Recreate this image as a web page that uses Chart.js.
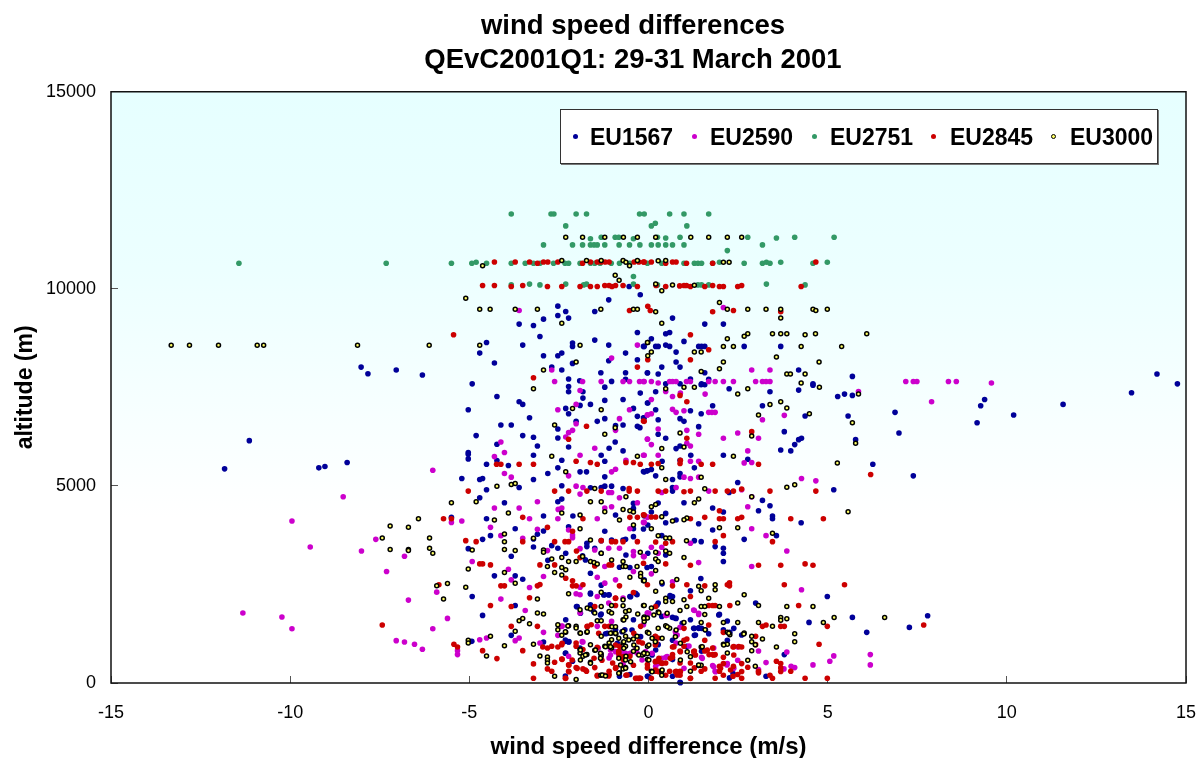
<!DOCTYPE html>
<html>
<head>
<meta charset="utf-8">
<title>wind speed differences</title>
<script src="https://cdn.jsdelivr.net/npm/chart.js@4"></script>
<style>
    html, body { margin: 0; padding: 0; background: #fff; }
    #wrap { position: relative; width: 1199px; height: 758px; }
    #legend {
        position: absolute; left: 560px; top: 109px; width: 596px; height: 53px;
        border: 1px solid #333; background: #fff; box-shadow: 1px 1px 0 #777;
        font: bold 23px "Liberation Sans", Arial, sans-serif; color: #000;
    }
    #legend span { position: absolute; top: 14px; line-height: 26px; }
    #legend i { position: absolute; top: 24px; width: 5px; height: 5px; border-radius: 50%; box-sizing: border-box; }
</style>
</head>
<body>
<div id="wrap">
    <canvas id="chart" width="1199" height="758"></canvas>
    <div id="legend"></div>
</div>
<script>
const titleLines = ['wind speed differences', 'QEvC2001Q1: 29-31 March 2001'];
const xTitle = 'wind speed difference (m/s)';
const yTitle = 'altitude (m)';
const seriesNames = ['EU1567', 'EU2590', 'EU2751', 'EU2845', 'EU3000'];

// [wind speed difference m/s, altitude m]
const eu1567 = [[-11.14,6149],[-11.83,5433],[-9.2,5458],[-9.03,5492],[-8.41,5593],[-4.92,7590],[-4.23,7270],[-3.61,7135],[-3.51,7068],[-5.03,6933],[-3.32,6731],[-4.12,6545],[-3.83,6545],[-4.81,6276],[-3.51,6276],[-3.21,6233],[-4.23,6056],[-3.1,6014],[-5.03,5846],[-5.03,5803],[-5.03,5686],[-3.21,5778],[-4.23,5643],[-4.52,5551],[-3.91,5517],[-2.42,5652],[-2.53,5458],[-2.81,5315],[-5.21,5188],[-4.71,5163],[-4.63,5188],[-3.21,5163],[-4.52,4902],[-3.61,4961],[-4.71,4699],[-4.02,4573],[-2.53,4598],[-2.42,4665],[-2.93,4235],[-2.11,4235],[-4.52,4168],[-5.5,4202],[-3.72,3915],[-4.41,3738],[-4.63,3645],[-5.03,3409],[-3.83,3215],[-4.3,2718],[-3.72,2718],[-3.51,2634],[-4.92,2195],[-3.72,1968],[-4.63,1715],[-3.83,1209],[-4.93,1057],[-3.21,3654],[-3.1,3772],[-2.93,3856],[-3.21,3452],[-2.53,3418],[-2.7,3485],[-2.31,3291],[-2.81,3114],[-2.23,7523],[-2.23,7388],[-1.83,7388],[-1.83,7228],[-1.62,7068],[-1.91,7043],[-2.31,6967],[-2.23,6832],[-1.22,7506],[-1.22,7169],[-1.22,6706],[-1.43,6638],[-0.71,7194],[-0.42,6967],[-0.93,6115],[-1.1,5955],[-0.71,5888],[-0.31,6765],[-0.12,6731],[-0.92,6530],[-0.71,6545],[-0.31,6512],[-0.24,6478],[-0.23,7355],[-0.03,7102],[-2.02,6638],[-2.53,6444],[-2.53,6217],[-2.23,5989],[-1.32,5778],[-1.22,5626],[-1.91,5357],[-1.73,5357],[-1.22,5230],[-2.42,5003],[-1.62,4952],[-1.32,4961],[-1.22,4994],[-1.03,4994],[-0.71,4935],[-0.12,5357],[-0.03,5382],[-0.42,4556],[-0.42,4430],[-0.12,4235],[-0.92,4261],[-0.42,3915],[-1.22,3848],[-2.23,3965],[-1.32,3612],[-1.03,3629],[-0.71,3629],[-0.64,3645],[-1.72,3544],[-1.72,3460],[-1.5,3418],[-1.32,3291],[-0.63,3249],[-0.42,3713],[-1.84,3224],[-1.76,3123],[-0.81,2937],[-0.52,2929],[-0.12,2617],[-1.62,2786],[-1.62,2280],[-1.32,2482],[-1.22,2238],[-1.1,2238],[-0.52,2195],[-0.32,2238],[-2.01,1942],[-1.62,1985],[-1.32,1749],[-0.42,1605],[-2.31,1605],[-1.2,1251],[-0.66,1352],[-0.92,1352],[-2.93,1041],[-2.31,1057],[-2.23,1041],[-2.31,762],[-2.12,552],[-1.91,889],[-0.52,214],[-0.81,172],[-0.03,172],[14.76,7590],[13.48,7363],[11.57,7068],[10.19,6798],[9.38,7194],[9.27,7034],[9.17,6604],[6.99,6343],[6.88,6866],[7.39,5256],[6.26,5551],[5.78,6174],[5.57,6773],[5.69,7296],[5.47,7329],[5.28,7270],[4.59,7557],[4.19,7431],[3.39,7388],[3.18,7034],[4.37,6773],[3.79,6377],[4.27,6208],[4.19,6174],[4.08,6048],[3.69,5913],[3.97,5888],[5.17,4902],[2.49,5087],[2.77,5677],[2.09,5778],[1.28,5458],[1.18,5778],[0.88,5652],[0.38,5626],[0.08,5416],[-0.04,5382],[-0.14,5365],[0.2,5256],[0.67,5163],[0.88,5315],[0.88,5230],[0.67,4961],[0.67,4868],[2.25,4834],[0.99,4573],[1.79,4438],[2.09,4337],[3.18,4632],[3.39,4497],[3.07,4370],[3.46,4235],[3.46,4168],[4.26,4067],[3.57,3738],[2.67,3645],[2.09,3418],[2.09,3291],[2.09,3081],[1.86,3460],[1.47,3586],[1.28,3612],[1.79,3881],[1.4,4042],[0.77,4135],[0.48,4303],[0.48,4067],[0.27,4564],[0.08,4337],[-0.02,4008],[-0.14,3907],[0.37,3738],[-0.04,2929],[0.08,2954],[0.48,3249],[-0.02,3291],[1.46,2651],[1.17,2339],[0.38,2516],[4.99,2195],[2.99,2027],[0.27,2027],[0.6,2221],[0.67,2195],[0.67,1664],[0.77,1639],[1.17,1605],[1.98,1740],[2.2,1572],[5.69,1664],[7.79,1707],[7.28,1411],[6.09,1285],[4.48,1538],[1.28,1386],[1.4,1403],[1.48,1386],[2.09,1352],[2.27,1285],[2.6,1218],[1.68,1251],[1.28,1209],[0.67,1083],[2.2,1083],[0.27,973],[1.07,931],[3.79,720],[1.48,804],[0.67,594],[2.36,240],[2.26,130],[3.28,172],[0.88,20],[0.67,172],[-0.02,172],[0.37,1690],[-8.02,8015],[-7.83,7846],[-7.04,7939],[-6.31,7813],[-4.52,8640],[-4.71,8370],[-4.3,8117],[-3.51,8573],[-2.93,8302],[-2.53,8302],[-2.42,8370],[-2.7,8015],[-2.42,7939],[-2.12,8623],[-2.12,8539],[-2.12,8108],[-1.5,8699],[-1.11,8573],[-1.11,8176],[-0.64,8370],[-0.31,8201],[-1.33,7872],[-0.64,7872],[-2.23,7711],[-1.92,7669],[-1.03,7652],[-0.64,7703],[-2.53,9561],[-2.31,9426],[-2.53,9324],[-2.23,9257],[-2.93,9231],[-3.61,9105],[-3.21,9071],[-3.03,8792],[-1.11,9721],[-1.5,9426],[-0.54,10059],[-0.23,9848],[-0.31,8894],[-0.03,7863],[-0.12,8539],[0.67,9257],[1.57,9105],[2.09,9105],[0.59,8894],[0.48,8860],[0.08,8733],[-0.14,8539],[0.2,8539],[0.27,8539],[0.48,8573],[0.59,8539],[0.99,8666],[0.77,8395],[1.4,8539],[1.48,8539],[1.57,8539],[2.67,8539],[3.69,8539],[0.77,8142],[0.37,8015],[0.88,8015],[-0.03,7872],[0.27,7838],[1.17,7711],[1.57,7872],[1.68,7703],[4.19,7939],[5.69,7779],[4.59,7593],[14.19,7838],[1.48,7593],[0.48,7593],[0.88,7593],[0.2,7388],[-0.02,7102],[1.47,7566],[1.57,7566],[2.25,7464],[1.79,7034],[1.17,6908],[1.47,6832],[0.2,6933],[0.27,6680],[0.88,6706],[0.99,6638],[1.4,6503],[0.27,6309],[0.48,6208],[0.77,5947],[0.88,6014],[-0.14,6731],[-0.74,1302],[-1.15,1260],[-0.46,1345],[-0.22,1176],[0.2,837],[0.1,710],[-2.32,1091],[-2.22,1049],[-2.32,753],[-1.34,1726],[-1.53,1810],[-1.99,1937],[-1.9,1768],[-1.62,2258],[-1.25,2233],[-1.11,2233],[-0.5,2191],[-0.36,2275],[0.24,1979],[0.61,2191],[0.75,1641],[0.94,1514],[1.26,1387],[1.4,1387],[1.59,1345],[1.96,1726],[2.38,1387],[0.01,160],[0.89,8],[-2.32,177],[-0.87,1006],[1.31,1218]];

const eu2590 = [[-0.14,7650],[0.08,7650],[0.27,7610],[0.59,7650],[0.67,7650],[0.77,7650],[1.06,7650],[1.17,7650],[1.68,7650],[1.86,7650],[2.09,7650],[2.37,7650],[2.99,7650],[3.18,7650],[3.28,7650],[3.39,7650],[7.18,7650],[7.39,7650],[7.49,7650],[8.37,7650],[8.59,7650],[9.57,7610],[-2.62,7650],[-1.84,7650],[-1.32,7650],[-0.71,7650],[-0.53,7650],[-0.25,7650],[-0.12,7650],[-3.61,9451],[-1.03,8243],[-2.7,7939],[-0.31,8573],[2.09,9527],[2.88,7939],[3.39,7939],[5.86,7397],[7.9,7135],[0.48,7397],[0.89,7355],[0.67,7270],[0.08,7194],[1.58,7329],[0.67,6942],[0.77,6866],[0.99,6908],[1.68,6866],[1.77,6866],[1.86,6866],[0.08,6832],[-0.03,6798],[3.18,6680],[3.79,6790],[0.27,6444],[-0.03,6183],[0.08,6048],[1.07,6410],[1.4,6309],[2.49,6343],[2.09,6208],[3.07,6208],[1.07,6082],[1.17,6014],[-0.14,5778],[0.27,5778],[2.77,5888],[1.17,5626],[1.4,5626],[2.67,5584],[2.88,5593],[0.99,5222],[1.17,5188],[1.4,5222],[4.27,5188],[4.67,5129],[0.77,4961],[0.37,4834],[1.68,4868],[2.6,4902],[2.88,4725],[2.77,4472],[-0.03,4210],[2.88,3915],[3.28,3738],[1.17,3544],[-0.14,4075],[3.86,3350],[0.08,3443],[0.37,3443],[-0.14,3207],[0.27,3291],[1.4,3055],[2.88,2954],[0.08,2769],[0.67,2567],[4.27,2364],[1.28,1841],[1.4,1740],[0.48,1715],[-0.03,1774],[-0.14,1479],[0.88,1411],[0.77,1226],[3.07,813],[3.86,788],[5.17,687],[6.19,720],[6.19,459],[5.06,552],[4.59,459],[3.28,518],[2.49,577],[1.48,653],[0.48,653],[0.37,628],[3.07,341],[3.98,425],[4.08,391],[3.78,358],[1.79,442],[2.2,492],[1.86,299],[1.82,889],[2.49,914],[0.2,425],[0.77,1015],[-6.02,5399],[-8.52,4725],[-9.95,4109],[-9.44,3452],[-7.61,3645],[-8.01,3350],[-6.81,3215],[-7.31,2828],[-6.7,2103],[-5.91,2305],[-5.61,1639],[-11.32,1774],[-10.23,1673],[-9.95,1378],[-6.02,1378],[-7.04,1074],[-6.81,1041],[-6.53,982],[-6.31,855],[-5.33,821],[-5.33,720],[-4.71,1099],[-4.52,1142],[-5.5,4075],[-5.21,4109],[-4.92,3081],[-4.3,5744],[-4.12,6115],[-4.02,5846],[-4.02,5315],[-3.83,5222],[-4.3,4438],[-3.61,4438],[-3.1,4598],[-4.41,3949],[-4.12,3738],[-3.51,3671],[-3.32,4168],[-3.91,2887],[-3.83,2617],[-3.32,2423],[-4.12,2128],[-3.44,1841],[-3.72,1074],[-3.61,1142],[-2.93,1285],[-3.03,1015],[-3.1,3898],[-2.93,2701],[-2.53,6933],[-2.02,7068],[-1.91,7422],[-2.02,6579],[-2.23,6351],[-2.12,6410],[-2.31,6242],[-2.23,5256],[-1.91,5778],[-1.5,5955],[-0.81,6706],[-0.53,6933],[-0.92,6410],[-0.03,6807],[-0.03,6191],[-0.12,5778],[-0.63,5652],[-1.03,5357],[-0.92,5424],[-2.02,4994],[-1.83,4961],[-1.91,4792],[-1.11,4834],[-1.03,4834],[-0.81,4699],[-0.31,4573],[-2.52,4404],[-2.42,4438],[-2.53,4168],[-1.22,4438],[-1.03,4472],[-1.43,4168],[-0.52,3915],[-0.12,4075],[-0.03,4202],[-2.23,3881],[-2.12,3755],[-2.12,3688],[-2.82,3359],[-1.91,3409],[-1.5,3376],[-1.11,3418],[-0.81,3418],[-0.42,3334],[-0.42,3232],[-1.22,2954],[-0.12,3207],[-0.42,2828],[-1.43,2684],[-1.22,2533],[-0.92,2617],[-1.91,2431],[-2.02,2263],[-1.91,2238],[-1.43,2195],[-1.11,2027],[-0.71,2153],[-1.91,1774],[-0.03,1774],[-2.42,1437],[-2.53,1209],[-1.83,1041],[-1.43,1437],[-1.03,1563],[-0.32,762],[-0.81,804],[-0.71,762],[-1.1,636],[-2.23,678],[-0.71,467],[-0.52,744],[-1.4,889],[-1.06,837],[-0.92,795],[-0.83,710],[-0.64,753],[-0.5,753],[-0.36,837],[-0.08,795],[-0.18,583],[-1.06,710],[0.1,753],[0.52,668],[0.75,1302],[0.8,1218],[0.29,499],[0.99,372],[2.19,456],[2.38,372],[1.82,414],[1.87,287],[1.5,626],[1.13,939],[1.26,1852],[1.4,1768],[0.01,1768],[0.52,1726],[-2.41,1446],[-1.85,1049]];

const eu2751 = [[-3.83,11900],[-2.72,11900],[-2.64,11900],[-2.02,11900],[-1.73,11900],[-0.25,11900],[-0.12,11900],[0.59,11900],[0.99,11900],[1.68,11900],[0.19,11665],[0.08,11596],[1.07,11596],[-2.31,11596],[-1.62,11270],[-1.32,11310],[-0.93,11310],[-0.83,11310],[-0.42,11270],[0.25,11310],[0.48,11290],[0.88,11310],[2.77,11310],[3.57,11290],[4.08,11310],[5.18,11310],[-2.93,11115],[-2.12,11115],[-1.84,11115],[-1.62,11115],[-1.52,11115],[-1.43,11115],[-1.22,11115],[-0.82,11115],[-0.53,11115],[-0.24,11115],[0.08,11115],[0.27,11115],[0.48,11115],[0.67,11115],[0.99,11115],[3.18,11115],[2.2,10970],[-11.43,10650],[-7.32,10650],[-5.5,10650],[-4.93,10650],[-4.81,10675],[-4.52,10650],[-3.83,10650],[-3.44,10650],[-3.21,10650],[-3.03,10650],[-2.65,10650],[-2.33,10650],[-2.23,10650],[-1.91,10650],[-1.62,10650],[-1.5,10650],[-1.35,10650],[-1.04,10650],[-0.81,10650],[-0.52,10650],[-0.03,10650],[0.37,10650],[0.99,10650],[1.28,10650],[1.38,10650],[1.48,10650],[1.79,10650],[1.98,10675],[2.67,10650],[3.18,10650],[3.29,10675],[3.39,10650],[3.69,10675],[4.59,10650],[4.99,10675],[-3.83,10100],[-3.32,10120],[-3.03,10100],[-2.31,10120],[-1.81,10100],[-1.73,10120],[-0.42,10312],[-0.42,10120],[0.25,10100],[1.38,10100],[1.48,10100],[1.68,10100],[3.29,10120],[4.37,10100]];

const eu2845 = [[-4.3,10680],[-3.72,10680],[-3.32,10680],[-3.1,10650],[-2.93,10680],[-2.81,10680],[-2.53,10680],[-1.84,10650],[-1.62,10680],[-1.43,10680],[-1.32,10680],[-1.21,10680],[-1.1,10680],[-0.4,10680],[-0.27,10680],[-0.12,10680],[-0.14,10680],[0.08,10680],[0.48,10650],[0.67,10680],[0.77,10680],[1.06,10650],[1.79,10650],[4.67,10680],[-4.63,10085],[-4.3,10085],[-3.83,10060],[-3.51,10085],[-2.82,10060],[-2.42,10060],[-1.91,10060],[-1.62,10060],[-1.43,10060],[-1.22,10085],[-1.1,10085],[-1.02,10060],[-0.92,10085],[-0.71,10085],[-0.31,10060],[0.21,10085],[0.48,10060],[0.87,10075],[0.99,10085],[1.06,10085],[1.17,10060],[1.57,10060],[1.79,10085],[1.98,10060],[2.09,10060],[2.49,10060],[2.6,10085],[4.26,10060],[-0.02,9560],[-0.53,9450],[0.05,9450],[-5.44,8835],[-0.02,8200],[-0.31,8015],[-3.21,7745],[1.79,9418],[2.37,9450],[3.69,9418],[1.17,8835],[1.68,8455],[1.17,8200],[-7.43,1470],[-5.85,2491],[-5.72,4168],[-5.5,4168],[-5.03,4868],[-5.1,3612],[-4.81,3586],[-4.71,3022],[-4.63,3022],[-4.41,2996],[-4.12,2465],[-4.02,2465],[-4.41,1968],[-3.83,1942],[-3.32,2162],[-4.24,5551],[-4.12,5551],[-3.61,5551],[-3.21,5551],[-3.83,1437],[-3.1,1437],[-5.43,982],[-5.33,914],[-4.63,821],[-4.23,619],[-3.51,821],[-3.21,484],[-3.21,122],[-3.51,4202],[-2.82,3949],[-3.51,3586],[-2.62,3586],[-2.33,3586],[-2.23,3586],[-2.12,3848],[-2.62,4868],[-2.23,4868],[-1.72,4868],[-1.32,4868],[-0.54,4935],[-0.54,4868],[-0.31,4868],[-2.02,5626],[-1.62,5593],[-1.43,5551],[-0.63,5593],[-0.42,5593],[-0.23,5551],[-2.23,6183],[-1.73,6512],[-0.12,6638],[-1.83,4168],[-0.52,4202],[-0.12,4261],[-0.31,4202],[-1.03,3586],[-0.92,3586],[-0.71,3586],[-0.31,3586],[-1.32,3612],[-2.01,3350],[-1.91,3182],[-3.03,2996],[-2.62,2996],[-1.5,2971],[-1.1,2996],[-1.03,2996],[-2.31,2659],[-2.12,2592],[-2.12,2465],[-2.02,2465],[-1.83,2491],[-0.81,2465],[-3.1,2465],[-3.03,2499],[-0.42,2297],[-0.92,2153],[-0.92,1968],[-1.5,1942],[-1.71,1437],[-1.6,1478],[-1.22,1437],[-1.1,1437],[-0.22,1437],[-2.95,914],[-2.82,889],[-2.7,931],[-2.53,914],[-2.42,973],[-2.02,931],[-2.02,1015],[-1.83,847],[-1.43,906],[-0.81,931],[-0.83,804],[-0.81,678],[-0.52,678],[-0.17,1015],[-2.62,526],[-2.42,610],[-2.23,459],[-2.02,391],[-1.83,358],[-1.73,299],[-2.23,299],[-2.82,358],[-2.7,299],[-2.31,122],[-1.5,391],[-1.1,299],[-1.43,197],[-1.22,197],[-1.1,214],[-0.63,197],[-0.32,122],[-0.22,122],[-0.42,450],[-0.91,391],[-1.52,627],[-1.3,577],[-1.0,509],[-0.71,594],[6.2,5289],[2.88,6377],[1.47,5551],[1.79,5551],[3.07,5551],[0.89,5652],[0.88,5567],[0.27,5567],[0.08,5551],[1.07,7135],[0.88,7296],[-0.14,6646],[1.07,6208],[0.27,4868],[0.48,4868],[0.99,4851],[1.17,4868],[1.86,4868],[2.2,4868],[2.37,4868],[2.6,4919],[3.39,4868],[4.67,4868],[1.17,4168],[1.57,4202],[1.98,4168],[2.09,4168],[1.98,4370],[2.49,4168],[2.6,4202],[3.97,4168],[4.88,4168],[-0.14,4270],[0.08,4210],[0.2,4210],[2.09,3738],[1.86,3586],[3.46,3586],[0.67,3586],[0.48,3544],[0.2,3578],[0.48,3022],[1.17,2988],[3.07,2988],[3.69,2988],[4.37,3022],[4.59,2988],[-0.14,3039],[1.07,2491],[1.57,2465],[2.2,2491],[2.26,2541],[2.26,2465],[3.79,2491],[5.47,2491],[-0.03,2491],[0.67,2465],[1.17,2195],[1.68,1968],[1.79,1968],[1.86,1968],[2.27,1968],[4.19,1968],[0.2,1942],[4.99,1437],[3.18,1437],[3.28,1470],[3.69,1437],[3.79,1437],[1.68,1470],[0.99,1386],[7.68,1470],[2.09,1285],[2.99,1184],[0.99,1083],[1.07,1116],[1.57,1083],[4.76,982],[2.99,973],[2.36,914],[2.6,914],[0.67,914],[1.79,889],[1.57,813],[1.28,813],[0.88,813],[1.86,720],[1.69,720],[1.79,720],[2.09,653],[1.28,720],[3.57,552],[3.69,492],[3.69,383],[3.69,290],[3.97,299],[2.77,400],[2.6,492],[3.07,299],[3.07,257],[1.98,425],[1.98,299],[2.09,492],[2.37,425],[2.6,290],[2.09,197],[2.49,214],[2.36,172],[2.6,122],[1.86,122],[1.17,122],[3.39,197],[3.46,122],[4.37,122],[4.99,122],[0.2,299],[0.27,299],[0.48,197],[0.77,299],[0.88,299],[0.88,197],[0.08,122],[-0.24,122],[1.17,509],[1.28,383],[1.57,358],[1.47,299],[0.2,552],[0.27,552],[0.37,509],[0.48,509],[0.59,299],[-0.03,467],[-0.03,383],[0.67,720],[0.67,653],[0.88,509],[0.99,931],[0.19,1184],[0.26,1142],[0.21,1015],[-0.92,2148],[-0.92,964],[-0.83,753],[-0.69,668],[-0.41,1260],[-0.27,1049],[0.19,1176],[0.19,964],[0.29,626],[0.19,541],[0.38,499],[0.19,330],[0.29,287],[0.61,626],[0.71,922],[0.89,795],[1.26,795],[1.31,710],[1.64,837],[1.82,710],[2.38,922],[2.52,922],[2.38,710],[2.01,372],[2.29,330],[0.75,287],[0.89,287],[1.17,118],[0.8,203],[-0.27,118],[-0.36,118],[-0.6,203],[-0.92,372],[-1.11,177],[-1.43,177],[-1.76,330],[-1.99,372],[-2.22,456],[-2.22,287],[-2.32,118],[-2.41,600],[-2.13,583],[-1.71,1429],[-2.41,1006],[-1.39,1260]];

const eu3000 = [[-13.32,8570],[-12.81,8570],[-12,8570],[-10.92,8570],[-10.74,8570],[-8.12,8570],[-6.12,8570],[-4.71,8570],[-1.91,8570],[-2.31,11310],[-1.84,11310],[-1.22,11310],[-0.7,11310],[-0.31,11310],[0.2,11310],[1.18,11310],[1.68,11310],[2.2,11310],[2.6,11310],[-4.63,10583],[-2.42,10720],[-1.73,10720],[-1.32,10720],[-0.71,10720],[-0.63,10675],[-0.53,10583],[-0.31,10720],[0.27,10710],[0.48,10720],[2.09,10675],[2.25,10675],[-0.93,10345],[-0.82,10220],[0.2,10120],[0.67,10100],[1.28,10093],[0.37,9950],[-5.1,9763],[-4.71,9485],[-4.42,9485],[-3.72,9485],[-3.1,9485],[-1.33,9485],[-0.42,9485],[-0.31,9485],[-2.42,9130],[-0.02,8640],[-0.02,8302],[-2.02,8142],[-2.93,7940],[0.2,9418],[0.37,9130],[1.98,9654],[2.2,9485],[2.77,9485],[3.28,9485],[3.69,9485],[4.59,9485],[4.99,9485],[4.67,9450],[3.69,9257],[6.09,8860],[3.46,8860],[3.69,8860],[3.86,8860],[4.66,8860],[2.77,8860],[2.67,8800],[4.37,8835],[2.2,8733],[2.09,8540],[2.37,8540],[4.26,8540],[5.39,8540],[1.28,8395],[1.47,8395],[0.08,8395],[-0.03,8640],[3.57,8269],[2.09,8142],[4.76,8142],[1.98,7973],[1.47,7905],[3.86,7838],[3.96,7838],[4.37,7838],[4.26,7610],[4.77,7506],[0.99,7506],[1.28,7506],[0.48,7464],[2.49,7329],[2.77,7464],[5.86,7329],[3.39,7068],[3.69,7135],[3.86,6975],[3.07,6798],[4.49,6832],[5.69,6604],[0.88,6343],[2.88,6267],[5.78,6082],[0.37,5947],[0.99,5989],[2.37,5753],[5.27,5584],[0.37,5458],[1.47,5222],[0.48,5163],[4.08,5028],[3.86,4969],[1.57,4927],[2.88,4725],[1.4,4665],[1.28,4573],[0.08,4472],[0.2,4531],[5.57,4345],[1.07,4185],[0.99,4143],[0.67,4110],[0.37,4219],[1.98,3940],[2.49,3940],[0.08,3915],[3.46,3797],[0.27,3738],[0.48,3679],[0.59,3679],[1.06,3612],[0.48,3350],[0.59,3291],[0.2,3316],[0.99,3182],[0.2,3148],[0.27,3081],[0.2,2853],[0.79,2625],[0.37,2558],[-0.14,2592],[1.86,2491],[1.86,2364],[1.4,2457],[1.47,2339],[0.2,2330],[2.67,2238],[1.68,2153],[0.48,2153],[0.99,2111],[2.49,2027],[0.48,2069],[0.67,2069],[3.07,1968],[-0.14,1968],[1.47,1942],[1.57,1942],[1.98,1942],[3.86,1942],[4.59,1942],[1.07,1942],[0.88,1841],[0.08,1900],[5.18,1664],[6.59,1664],[3.69,1664],[3.69,1590],[3.86,1631],[1.57,1740],[0.27,1799],[0.99,1538],[1.47,1538],[2.09,1538],[2.49,1538],[3.07,1538],[4.88,1538],[3.46,1437],[-0.03,1285],[2.2,1285],[2.27,1226],[2.67,1268],[2.66,1243],[2.88,1184],[4.08,1251],[1.58,1352],[0.77,1344],[0.59,1386],[0.27,1386],[0.48,1454],[4.08,1049],[2.88,1049],[2.98,973],[3.18,1116],[3.57,914],[1.47,914],[2.09,982],[2.2,982],[2.2,762],[2.88,821],[-0.14,720],[2.77,577],[1.4,442],[1.47,450],[2.98,425],[0.08,299],[0.37,299],[1.17,299],[0.37,197],[-5.5,4573],[-4.81,4598],[-6.42,4168],[-7.21,3983],[-6.7,3949],[-7.43,3679],[-6.11,3679],[-7.21,3384],[-6.7,3384],[-6.7,3359],[-6.11,3418],[-6.02,3291],[-5.91,2465],[-5.61,2524],[-5.1,2431],[-5.72,2128],[-5.03,2895],[-4.92,3376],[-5.03,1083],[-5.03,1015],[-4.41,1184],[-4.52,687],[-4.02,948],[-3.72,1310],[-3.61,1580],[-3.51,1639],[-3.32,1504],[-3.1,1774],[-2.93,1749],[-3.1,2128],[-4.02,2802],[-3.72,2533],[-4.02,3586],[-4.02,3384],[-3.72,3359],[-4.02,3780],[-4.3,4134],[-3.91,4311],[-4.23,4994],[-3.83,5036],[-3.72,5062],[-3.21,3671],[-2.93,3376],[-2.93,3317],[-2.7,3148],[-2.82,2954],[-2.62,2802],[-2.42,3182],[-2.42,2929],[-2.31,2870],[-2.42,2743],[-2.23,3081],[-2.02,3081],[-2.7,5753],[-2.31,5357],[-2.62,6545],[-2.12,6967],[-3.21,7464],[-1.32,6933],[-0.93,6478],[-1.22,6309],[-0.31,5753],[-1.5,4935],[-0.63,4725],[-1.62,4598],[-1.32,4598],[-2.42,4311],[-1.91,4261],[-1.91,3915],[-0.71,4404],[-0.52,4370],[-0.42,4337],[-1.22,4345],[-0.81,4134],[-0.42,4008],[-1.62,3629],[-1.32,3291],[-1.84,3207],[-1.62,3081],[-1.52,3055],[-1.43,3022],[-0.71,3081],[-0.71,2954],[-0.64,2954],[-1.03,3123],[-0.23,3317],[-0.52,2684],[-0.32,2954],[-0.22,2786],[-0.22,2701],[-0.12,2592],[-2.23,2263],[-1.32,2305],[-0.71,2111],[-0.71,1960],[-0.64,1816],[-0.54,1841],[-1.03,1968],[-1.32,1942],[-1.71,1900],[-1.62,1875],[-1.5,1774],[-1.91,1858],[-1.1,1816],[-1.03,1774],[-1.43,1580],[-1.32,1580],[-0.63,1673],[-0.71,1605],[-0.12,1968],[-0.3,1749],[-0.12,1673],[-0.12,1563],[-0.03,1648],[-2.53,1479],[-2.53,1352],[-2.23,1454],[-2.02,1437],[-2.02,1395],[-1.91,1268],[-1.72,1285],[-2.31,1285],[-2.42,1209],[-1.32,1184],[-1.03,1268],[-0.91,1251],[-1.03,1100],[-0.64,1184],[-0.71,1310],[-0.42,1116],[-0.32,1184],[-3.21,982],[-3.03,687],[-2.82,662],[-2.82,577],[-2.82,509],[-2.62,172],[-2.02,88],[-1.91,847],[-1.91,762],[-1.83,678],[-1.62,973],[-1.5,830],[-1.62,526],[-1.72,720],[-1.33,197],[-0.81,257],[-0.64,391],[-0.71,358],[-1.22,931],[-1.1,1015],[-1.1,931],[-1.03,889],[-1.32,737],[-1.32,678],[-0.71,1015],[-0.64,931],[-0.63,678],[-0.42,804],[-0.12,762],[-0.03,931],[-0.03,745],[-0.03,594],[-1.06,1260],[-0.92,1260],[-0.83,1133],[-0.69,1049],[-0.55,1091],[-0.41,964],[-0.32,880],[-0.18,710],[0.01,1260],[0.1,1133],[0.19,1049],[0.38,1133],[0.01,964],[-0.69,880],[-0.83,626],[-0.78,456],[-0.64,583],[-0.5,541],[-1.34,753],[-1.48,837],[-1.9,837],[-1.76,710],[-1.9,583],[-1.62,499],[-1.34,626],[-1.2,922],[-1.06,922],[-0.13,753],[0.01,583],[-0.27,710],[-1.29,203],[-1.2,177],[-0.64,372],[-0.83,245],[0.38,330],[0.1,287],[1.4,456],[1.17,668],[1.08,795],[0.89,583],[1.5,922],[2.1,964],[2.24,1260],[0.89,1006],[0.75,1176],[0.52,1429],[-0.13,1641],[0.15,1726],[0.29,1785],[0.52,1768],[-0.69,1599],[-1.9,1260],[-2.25,1446],[-2.32,1302],[-1.71,1302],[-1.02,1429],[-0.92,1429]];

const seriesData = [eu1567, eu2590, eu2751, eu2845, eu3000];
const seriesFill = ['#000099', '#cc00cc', '#339966', '#cc0000', '#ffff66'];
const seriesEdge = ['#000099', '#cc00cc', '#339966', '#cc0000', '#000000'];
const xTicks = [-15, -10, -5, 0, 5, 10, 15];
const yTicks = [0, 5000, 10000, 15000];
const fontFamily = '"Liberation Sans", Arial, sans-serif';

// plot background, frame, and the title sits a bit left of the plot centre
const plotFrame = {
    id: 'plotFrame',
    afterLayout(chart) {
        chart.titleBlock.left -= 15.5;
        chart.titleBlock.right -= 15.5;
    },
    beforeDraw(chart) {
        const { ctx, chartArea: a } = chart;
        const grad = ctx.createLinearGradient(0, a.top, 0, a.bottom);
        grad.addColorStop(0, '#e6ffff');
        grad.addColorStop(0.3, '#ecffff');
        grad.addColorStop(0.72, '#ffffff');
        ctx.save();
        ctx.fillStyle = grad;
        ctx.fillRect(a.left, a.top, a.width, a.height);
        ctx.restore();
    },
    afterDraw(chart) {
        const { ctx, chartArea: a } = chart;
        ctx.save();
        ctx.strokeStyle = '#111';
        ctx.lineWidth = 1.5;
        ctx.strokeRect(a.left, a.top, a.width, a.height);
        ctx.restore();
    }
};

new Chart(document.getElementById('chart').getContext('2d'), {
    type: 'scatter',
    data: {
        datasets: seriesNames.map((name, i) => ({
            label: name,
            data: seriesData[i].map(p => ({ x: p[0], y: p[1] })),
            backgroundColor: seriesFill[i],
            borderColor: seriesEdge[i],
            borderWidth: i === 4 ? 1.5 : 0,
            pointRadius: i === 4 ? 2 : 2.8,
            order: 5 - i,
            clip: false
        }))
    },
    options: {
        responsive: false,
        animation: false,
        layout: { padding: { right: 13 } },
        plugins: {
            legend: { display: false },
            tooltip: { enabled: false },
            title: {
                display: true,
                text: titleLines,
                color: '#000',
                fullSize: false,
                font: { family: fontFamily, size: 27.5, weight: 'bold', lineHeight: 1.25 },
                padding: { top: 9, bottom: 14 }
            }
        },
        scales: {
            x: {
                type: 'linear', min: -15, max: 15,
                afterFit(s) { s.height = 75; s.paddingRight = 0; s.paddingLeft = 0; },
                afterBuildTicks(s) { s.ticks = xTicks.map(v => ({ value: v })); },
                grid: { drawOnChartArea: false, tickLength: -7, color: '#555' },
                border: { display: false },
                ticks: { color: '#000', padding: 26, maxRotation: 0, font: { family: fontFamily, size: 18 } },
                title: { display: true, text: xTitle, color: '#000', padding: { bottom: -4 }, font: { family: fontFamily, size: 24, weight: 'bold' } }
            },
            y: {
                type: 'linear', min: 0, max: 15000,
                afterFit(s) { s.width = 111; s.paddingTop = 0; s.paddingBottom = 0; },
                afterBuildTicks(s) { s.ticks = yTicks.map(v => ({ value: v })); },
                grid: { drawOnChartArea: false, tickLength: -7, color: '#555' },
                border: { display: false },
                ticks: { color: '#000', padding: 22, callback: v => String(v), font: { family: fontFamily, size: 18 } },
                title: { display: true, text: yTitle, color: '#000', padding: { top: 12 }, font: { family: fontFamily, size: 23, weight: 'bold' } }
            }
        }
    },
    plugins: [plotFrame]
});

// legend sits inside the plot, as in the original
const legendEl = document.getElementById('legend');
const legendKeyLeft = [11.5, 130.5, 250.5, 370, 490];
const legendTextLeft = [29, 149, 269, 389, 509];
seriesNames.forEach((name, i) => {
    const key = document.createElement('i');
    key.style.left = legendKeyLeft[i] + 'px';
    key.style.background = seriesFill[i];
    if (i === 4) key.style.border = '1px solid #000';
    legendEl.appendChild(key);
    const label = document.createElement('span');
    label.style.left = legendTextLeft[i] + 'px';
    label.textContent = name;
    legendEl.appendChild(label);
});
</script>
</body>
</html>
